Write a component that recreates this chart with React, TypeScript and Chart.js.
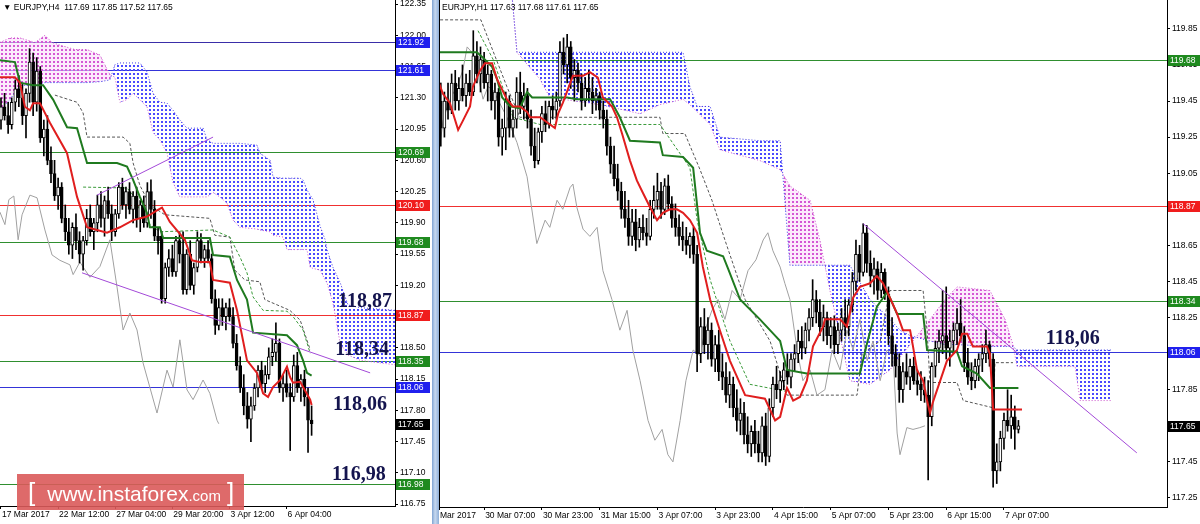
import React, { useEffect, useRef } from "react";
import { Chart, registerables } from "chart.js";
Chart.register(...registerables);

type P = [number, number];
type C = [number, number, number, number];

// ================= H4 panel data =================
const h4Title = "EURJPY,H4  117.69 117.85 117.52 117.65";
const h4TickBars = [0, 16, 32, 48, 64, 80];
const h4TickLabels = ["17 Mar 2017", "22 Mar 12:00", "27 Mar 04:00", "29 Mar 20:00", "3 Apr 12:00", "6 Apr 04:00"];
const h4PriceTicks = [116.75, 117.1, 117.45, 117.8, 118.15, 118.5, 118.85, 119.2, 119.55, 119.9, 120.25, 120.6, 120.95, 121.3, 121.65, 122.0, 122.35];
const h4Levels = [121.92, 121.61, 120.69, 120.1, 119.68, 118.87, 118.35, 118.06, 116.98];
const h4LevelKinds = ["navy", "blue", "green", "red", "green", "red", "green", "blue", "green"];
const h4NoteTexts = ["118,87", "118,34", "118,06", "116,98"];
const h4NoteLevels = [118.87, 118.35, 118.06, 116.98];

const h4Candles: C[] = [
  [121.05,121.30,120.95,121.20],[121.20,121.35,121.05,121.10],[121.10,121.25,120.90,121.00],[121.00,121.30,120.95,121.25],
  [121.25,121.50,121.15,121.40],[121.40,121.55,121.20,121.30],[121.30,121.45,121.00,121.10],[121.10,121.40,120.85,121.35],
  [121.35,121.85,121.25,121.70],[121.70,121.80,121.10,121.25],[121.25,121.75,121.15,121.60],[121.60,121.65,120.80,120.85],
  [120.85,121.05,120.65,120.95],[120.95,121.10,120.55,120.60],[120.60,120.75,120.35,120.45],[120.45,120.60,120.15,120.20],
  [120.20,120.40,120.05,120.30],[120.30,120.35,119.90,119.95],[119.95,120.10,119.70,119.80],[119.80,119.95,119.55,119.65],
  [119.65,119.90,119.50,119.85],[119.85,120.00,119.60,119.70],[119.70,119.80,119.45,119.55],[119.55,119.75,119.37,119.70],
  [119.70,120.05,119.65,119.95],[119.95,120.10,119.75,119.80],[119.80,119.95,119.60,119.90],[119.90,120.21,119.80,120.10],
  [120.10,120.25,119.85,119.95],[119.95,120.20,119.75,120.15],[120.15,120.30,119.95,120.00],[120.00,120.10,119.70,119.80],
  [119.80,120.05,119.75,120.00],[120.00,120.35,119.95,120.30],[120.30,120.40,120.05,120.10],[120.10,120.30,119.95,120.25],
  [120.25,120.35,120.00,120.05],[120.05,120.25,119.90,120.20],[120.20,120.30,119.85,119.95],[119.95,120.15,119.80,120.10],
  [120.10,120.20,119.85,119.90],[119.90,120.35,119.85,120.25],[120.25,120.38,119.95,120.05],[120.05,120.15,119.70,119.75],
  [119.75,119.85,119.55,119.70],[119.75,119.80,119.00,119.05],[119.05,119.45,119.00,119.40],[119.40,119.60,119.30,119.50],
  [119.50,119.65,119.30,119.35],[119.35,119.75,119.30,119.70],[119.70,119.80,119.45,119.55],[119.55,119.80,119.10,119.15],
  [119.15,119.60,119.10,119.55],[119.55,119.70,119.15,119.20],[119.20,119.45,119.10,119.40],[119.40,119.80,119.35,119.70],
  [119.70,119.78,119.45,119.50],[119.50,119.65,119.40,119.60],[119.60,119.70,119.45,119.50],[119.50,119.55,119.00,119.05],
  [119.05,119.15,118.65,118.75],[118.75,119.05,118.70,118.95],[118.95,119.05,118.75,118.85],[118.85,119.00,118.70,118.95],
  [118.95,119.05,118.80,118.85],[118.85,118.95,118.50,118.55],[118.55,118.65,118.25,118.30],[118.30,118.40,118.00,118.05],
  [118.05,118.20,117.75,117.85],[117.85,118.00,117.60,117.70],[117.70,117.95,117.45,117.85],[117.85,118.10,117.80,118.05],
  [118.05,118.30,117.95,118.25],[118.25,118.35,118.05,118.10],[118.10,118.30,118.00,118.20],[118.20,118.50,118.15,118.40],
  [118.40,118.60,118.30,118.45],[118.45,118.78,118.35,118.55],[118.55,118.60,118.00,118.05],[118.05,118.20,117.90,118.10],
  [118.10,118.25,117.95,118.00],[118.00,118.10,117.35,117.95],[117.95,118.42,117.90,118.30],[118.30,118.45,118.00,118.05],
  [118.05,118.20,117.90,118.15],[118.15,118.25,117.85,117.95],[117.95,118.05,117.33,117.69],[117.69,117.85,117.52,117.65],
];
const h4Tenkan: P[] = [
  [-0.3,121.53],[3.9,121.53],[5.3,121.47],[6.7,121.20],[8.1,121.16],[9,121.24],[10.9,121.24],[13.7,121.02],[18.5,120.68],
  [21.3,120.19],[24.1,119.85],[26.9,119.82],[29.7,119.79],[33.3,119.85],[37,119.93],[40.9,119.97],[43.7,120.04],[45.1,120.07],
  [47.3,119.91],[51.5,119.71],[53.5,119.48],[55.7,119.46],[58.5,119.46],[59.4,119.26],[64.1,119.23],[66.1,118.92],[68.9,118.36],
  [71.7,118.22],[73.4,117.99],[74.8,117.95],[76.2,118.06],[78.2,118.14],[80.1,118.29],[81,118.17],[81.8,118.11],[83.8,118.12],
  [86.6,117.92],[87,117.86],
];
const h4Kijun: P[] = [
  [-0.3,121.72],[3.9,121.70],[5.3,121.47],[9,121.44],[11.8,121.44],[14.6,121.28],[18.5,120.97],[21.3,120.96],[24.1,120.57],
  [32.5,120.57],[35.3,120.53],[37,120.38],[38.9,120.19],[40.9,120.01],[41.7,119.85],[44.5,119.85],[45.4,119.73],[58.5,119.73],
  [59.4,119.54],[64.1,119.52],[66.1,119.26],[68.9,119.04],[70.6,118.67],[80.1,118.64],[82.9,118.53],[84.6,118.36],[85.7,118.22],
  [87,118.19],
];
const h4Chikou: P[] = [
  [-0.3,120.02],[1.1,119.88],[2.2,120.16],[3.6,120.20],[4.8,119.71],[5.9,119.99],[8.1,120.21],[10.1,120.18],[12.3,119.82],
  [14.3,119.54],[16.5,119.48],[19.3,119.43],[20.2,119.32],[22.1,119.46],[24.9,119.29],[27.7,119.41],[30.5,119.71],[32.5,119.18],
  [34.2,118.70],[36.1,118.89],[38.1,118.70],[39.8,118.33],[43.7,117.77],[46.5,118.25],[48.2,118.06],[50.1,118.59],[52.1,118.03],
  [53.8,117.92],[56.6,118.14],[58.5,117.99],[60.5,117.69],[61,117.65],
];
const h4CloudX = [-0.3,2.5,5.3,9.5,12.3,14.3,16.5,20.7,24.1,27.7,30.5,31.9,33.3,35.3,37.0,38.9,40.9,42.6,44.5,46.5,48.2,50.1,52.1,56.6,57.7,59.4,61.3,63.3,65.0,66.9,71.7,72.5,75.4,76.2,79.0,80.1,83.8,84.6,85.7,86.6,87.4,89.4,90.8,91.3,93.0,95.0,97.2,100.6,110.4];
const h4SpanA = [121.92,121.97,121.97,121.92,122.00,121.92,121.89,121.84,121.84,121.78,121.56,121.53,121.25,121.28,121.35,121.28,121.20,120.91,120.83,120.68,120.35,120.19,120.19,120.19,120.19,120.24,120.19,120.12,119.93,119.85,119.83,119.82,119.80,119.76,119.74,119.60,119.60,119.60,119.60,119.40,119.39,119.37,119.26,119.23,119.00,118.55,118.42,118.36,118.31];
const h4SpanB = [121.16,121.28,121.44,121.44,121.47,121.47,121.47,121.47,121.47,121.48,121.50,121.67,121.69,121.69,121.69,121.69,121.59,121.35,121.25,121.24,121.16,121.05,120.96,120.96,120.83,120.79,120.79,120.79,120.79,120.79,120.77,120.68,120.60,120.41,120.40,120.40,120.40,120.38,120.27,120.21,120.16,119.86,119.71,119.60,119.40,119.23,118.98,118.95,118.92];
const h4DashGray: P[] = [
  [15.1,121.33],[21.3,121.25],[23.0,121.13],[24.1,120.86],[34.2,120.86],[36.1,120.79],[37.0,120.57],[38.9,120.32],[41.7,120.10],
  [45.9,119.99],[58.5,119.95],[59.9,119.76],[64.1,119.74],[65.5,119.37],[68.3,119.26],[72.5,119.24],[73.9,119.04],[80.9,118.92],
  [83.8,118.81],[86.6,118.48],
];
const h4DashGreen: P[] = [
  [23.0,120.30],[35.3,120.29],[37.0,120.21],[38.9,120.04],[41.7,119.88],[44.5,119.80],[59.4,119.82],[64.1,119.74],[66.9,119.52],
  [68.9,119.34],[70.6,119.07],[73.4,118.92],[80.1,118.91],[81.8,118.85],[84.6,118.70],[86.6,118.44],
];
const h4TrendUp: P[] = [[26.9,120.21],[59.4,120.86]];
const h4TrendDown: P[] = [[22.7,119.34],[103.4,118.22]];

// ================= H1 panel data =================
const h1Title = "EURJPY,H1 117.63 117.68 117.61 117.65";
const h1TickBars = [-0.5, 12, 28, 44, 60, 76, 92, 108, 124, 140, 156];
const h1TickLabels = ["Mar 2017", "30 Mar 07:00", "30 Mar 23:00", "31 Mar 15:00", "3 Apr 07:00", "3 Apr 23:00", "4 Apr 15:00", "5 Apr 07:00", "5 Apr 23:00", "6 Apr 15:00", "7 Apr 07:00"];
const h1PriceTicks = [117.25, 117.45, 117.65, 117.85, 118.05, 118.25, 118.45, 118.65, 118.85, 119.05, 119.25, 119.45, 119.65, 119.85];
const h1Levels = [119.68, 118.87, 118.34, 118.06];
const h1LevelKinds = ["green", "red", "green", "blue"];
const h1NoteTexts = ["118,06"];
const h1NoteLevels = [118.06];

const h1Candles: C[] = [
  [119.45,119.55,119.20,119.30],[119.30,119.50,119.25,119.45],[119.45,119.55,119.35,119.40],[119.40,119.60,119.38,119.55],
  [119.55,119.62,119.40,119.45],[119.45,119.58,119.40,119.52],[119.52,119.65,119.45,119.48],[119.48,119.60,119.42,119.55],
  [119.55,119.62,119.48,119.50],[119.50,119.84,119.48,119.70],[119.70,119.78,119.55,119.60],[119.60,119.75,119.50,119.68],
  [119.68,119.72,119.52,119.55],[119.55,119.65,119.45,119.60],[119.60,119.62,119.40,119.45],[119.45,119.55,119.35,119.50],
  [119.50,119.52,119.20,119.25],[119.25,119.35,119.15,119.30],[119.30,119.50,119.18,119.45],[119.45,119.48,119.25,119.30],
  [119.30,119.40,119.25,119.35],[119.35,119.58,119.30,119.50],[119.50,119.61,119.38,119.42],[119.42,119.55,119.35,119.48],
  [119.48,119.52,119.30,119.35],[119.35,119.40,119.15,119.20],[119.20,119.30,119.08,119.12],[119.12,119.30,119.10,119.28],
  [119.28,119.42,119.22,119.38],[119.38,119.45,119.28,119.32],[119.32,119.45,119.30,119.42],[119.42,119.48,119.35,119.40],
  [119.40,119.50,119.35,119.45],[119.45,119.78,119.42,119.72],[119.72,119.80,119.60,119.65],[119.65,119.82,119.55,119.75],
  [119.75,119.78,119.52,119.58],[119.58,119.68,119.45,119.62],[119.62,119.66,119.50,119.55],[119.55,119.60,119.40,119.45],
  [119.45,119.58,119.42,119.52],[119.52,119.62,119.45,119.50],[119.50,119.58,119.38,119.45],[119.45,119.52,119.40,119.48],
  [119.48,119.50,119.35,119.40],[119.40,119.45,119.30,119.35],[119.35,119.40,119.15,119.20],[119.20,119.25,119.05,119.10],
  [119.10,119.20,118.98,119.02],[119.02,119.10,118.90,118.95],[118.95,119.00,118.80,118.85],[118.85,118.95,118.75,118.80],
  [118.80,118.90,118.65,118.70],[118.70,118.85,118.65,118.78],[118.78,118.85,118.62,118.68],[118.68,118.80,118.64,118.75],
  [118.75,118.82,118.68,118.72],[118.72,118.80,118.65,118.70],[118.70,118.90,118.68,118.85],[118.85,118.98,118.80,118.90],
  [118.90,119.05,118.85,118.95],[118.95,119.00,118.80,118.85],[118.85,119.02,118.82,118.98],[118.98,119.04,118.85,118.88],
  [118.88,118.92,118.75,118.80],[118.80,118.88,118.70,118.75],[118.75,118.82,118.65,118.70],[118.70,118.78,118.62,118.68],
  [118.68,118.75,118.60,118.65],[118.65,118.72,118.58,118.70],[118.70,118.75,118.55,118.60],[118.60,118.65,117.95,118.05],
  [118.05,118.25,118.00,118.20],[118.20,118.30,118.05,118.10],[118.10,118.25,118.02,118.18],[118.18,118.22,117.98,118.02],
  [118.02,118.15,117.95,118.10],[118.10,118.18,117.90,117.95],[117.95,118.05,117.85,117.92],[117.92,118.00,117.78,117.82],
  [117.82,117.95,117.75,117.88],[117.88,117.92,117.70,117.75],[117.75,117.85,117.62,117.68],[117.68,117.80,117.60,117.72],
  [117.72,117.78,117.55,117.60],[117.60,117.70,117.50,117.55],[117.55,117.65,117.48,117.62],[117.62,117.68,117.50,117.55],
  [117.55,117.62,117.45,117.50],[117.50,117.70,117.45,117.65],[117.65,117.72,117.43,117.48],[117.48,117.80,117.45,117.75],
  [117.75,117.92,117.70,117.88],[117.88,117.98,117.80,117.85],[117.85,117.95,117.78,117.90],[117.90,118.00,117.85,117.96],
  [117.96,118.05,117.88,117.92],[117.92,118.05,117.86,118.02],[118.02,118.10,117.95,118.05],[118.05,118.18,118.00,118.12],
  [118.12,118.20,118.02,118.08],[118.08,118.22,118.05,118.18],[118.18,118.30,118.12,118.25],[118.25,118.46,118.20,118.35],
  [118.35,118.40,118.22,118.28],[118.28,118.35,118.15,118.20],[118.20,118.32,118.12,118.25],[118.25,118.28,118.10,118.15],
  [118.15,118.25,118.08,118.20],[118.20,118.26,118.05,118.10],[118.10,118.22,118.05,118.18],[118.18,118.30,118.12,118.25],
  [118.25,118.35,118.15,118.20],[118.20,118.35,118.15,118.32],[118.32,118.50,118.28,118.45],[118.45,118.68,118.40,118.60],
  [118.60,118.65,118.45,118.50],[118.50,118.77,118.48,118.72],[118.72,118.76,118.50,118.55],[118.55,118.62,118.42,118.48],
  [118.48,118.58,118.38,118.52],[118.52,118.56,118.35,118.40],[118.40,118.55,118.36,118.50],[118.50,118.52,118.35,118.38],
  [118.38,118.42,118.10,118.15],[118.15,118.25,117.98,118.05],[118.05,118.10,117.92,117.98],[117.98,118.05,117.78,117.85],
  [117.85,118.00,117.78,117.95],[117.95,118.05,117.88,117.92],[117.92,118.02,117.85,117.98],[117.98,118.03,117.88,117.90],
  [117.90,117.96,117.82,117.88],[117.88,117.95,117.79,117.85],[117.85,117.92,117.78,117.82],[117.82,117.90,117.35,117.70],
  [117.70,118.00,117.65,117.98],[117.98,118.12,117.92,118.08],[118.08,118.18,118.00,118.12],[118.12,118.40,118.05,118.15],
  [118.15,118.42,118.02,118.08],[118.08,118.18,117.98,118.12],[118.12,118.22,118.05,118.18],[118.18,118.30,118.10,118.22],
  [118.22,118.35,118.12,118.15],[118.15,118.20,117.95,118.00],[118.00,118.08,117.88,117.92],[117.92,118.00,117.85,117.90],
  [117.90,118.02,117.86,117.98],[117.98,118.05,117.90,118.02],[118.02,118.10,117.95,118.05],[118.05,118.18,118.00,118.10],
  [118.10,118.12,117.98,118.02],[118.02,118.05,117.31,117.40],[117.40,117.55,117.33,117.45],[117.45,117.62,117.40,117.58],
  [117.58,117.72,117.52,117.68],[117.68,117.85,117.62,117.65],[117.65,117.82,117.58,117.70],[117.70,117.76,117.52,117.63],
  [117.63,117.68,117.61,117.65],
];
const h1Tenkan: P[] = [
  [-0.5,119.55],[0.6,119.49],[2.5,119.44],[4.8,119.29],[6.1,119.34],[8.1,119.42],[8.9,119.53],[10.9,119.62],[12.2,119.66],
  [14.2,119.66],[15.6,119.57],[18.3,119.46],[20,119.42],[21.9,119.42],[23.9,119.39],[24.7,119.36],[27.5,119.36],[31.6,119.30],
  [32.5,119.38],[33.8,119.44],[36.6,119.59],[39.4,119.59],[41.3,119.61],[43.5,119.58],[44.9,119.47],[47.4,119.42],[48.8,119.36],
  [50.2,119.27],[52.4,119.12],[54.3,119.01],[56,118.94],[58,118.86],[59.9,118.79],[61.5,118.83],[63.5,118.85],[65.4,118.85],
  [67.1,118.83],[69,118.79],[71,118.72],[72.6,118.53],[74.6,118.35],[77.3,118.18],[80.1,118.01],[84.3,117.82],[89.8,117.80],
  [92.6,117.68],[94,117.70],[95.9,117.86],[97.6,117.79],[99.5,117.81],[101.4,117.90],[103.1,118.09],[105.9,118.20],[106.4,118.24],
  [110.6,118.24],[112.5,118.20],[114.2,118.36],[116.1,118.42],[118.9,118.44],[120.8,118.48],[122.5,118.44],[124.4,118.36],
  [126.4,118.27],[128,118.18],[130,118.18],[130.8,118.09],[131.9,117.96],[133.6,117.90],[134.7,117.79],[135.5,117.72],[136.3,117.78],
  [140.2,118.01],[143,118.07],[144.4,118.16],[145.8,118.16],[147.4,118.09],[151.3,118.09],[152.1,118.05],[153,117.74],[161,117.74],
];
const h1Kijun: P[] = [
  [-0.5,119.72],[10,119.72],[11.7,119.69],[14.2,119.64],[15.6,119.57],[17,119.47],[19.2,119.42],[21.9,119.41],[23.9,119.50],
  [25.3,119.47],[35,119.47],[37.7,119.46],[46.9,119.46],[49.6,119.36],[52.4,119.23],[60.7,119.22],[61.5,119.15],[67.1,119.14],
  [69.9,119.08],[71.8,118.72],[73.7,118.62],[78.2,118.59],[79.6,118.52],[82.9,118.35],[88.4,118.24],[92.6,118.15],[94,118.12],
  [95.9,117.96],[101.4,117.94],[116.1,117.94],[118.1,118.11],[120.8,118.31],[123.6,118.39],[124.4,118.36],[126.4,118.27],
  [133.6,118.27],[134.7,118.07],[143,118.06],[144.4,117.98],[148.5,117.94],[152.1,117.86],[160,117.86],
];
const h1Chikou: P[] = [
  [-0.5,119.16],[0.6,119.34],[2.5,119.46],[4.5,119.53],[6.1,119.62],[7.3,119.75],[8.6,119.72],[10,119.62],[11.7,119.46],
  [13.1,119.53],[14.5,119.51],[18.3,119.36],[21.1,119.22],[23.9,119.03],[26.6,118.66],[28.9,118.79],[30.2,118.75],[32.2,118.90],
  [33.8,118.85],[35.8,118.97],[36.6,118.99],[37.7,118.86],[39.4,118.74],[41.3,118.70],[43.3,118.75],[44.9,118.51],[47.4,118.35],
  [49.6,118.18],[51.6,118.29],[53.2,118.07],[55.2,117.90],[57.4,117.68],[59.3,117.57],[61.3,117.63],[62.9,117.49],[64.3,117.45],
  [66.3,117.68],[67.9,117.90],[69.9,118.07],[71.8,118.04],[73.2,118.18],[75.1,118.29],[76.8,118.35],[78.7,118.24],[80.7,118.40],
  [82.9,118.35],[85.1,118.51],[87.3,118.57],[89.3,118.68],[90.6,118.72],[92.0,118.62],[94.0,118.53],[95.3,118.44],[96.7,118.35],
  [98.7,118.07],[100.3,117.90],[102.3,117.96],[104.2,117.82],[106.4,117.85],[108.4,118.07],[110.6,117.96],[112.5,118.18],
  [114.2,118.07],[116.1,118.24],[118.1,118.01],[119.7,118.12],[121.7,117.90],[123.6,118.07],[125.3,118.04],[126.4,117.61],
  [127.2,117.49],[129.1,117.64],[130.8,117.63],[132.7,117.64],[134.1,117.65],
];
const h1CloudX = [19.7,21.1,27.5,30.2,44.1,55.2,60.7,67.1,69.0,71.0,74.6,77.3,88.4,94.0,96.7,102.3,105.0,107.8,113.3,118.9,124.4,127.2,130.0,135.5,139.7,143.0,152.1,156.3,158.5,159.6,175.7,177.1,185.9];
const h1SpanA = [120.04,119.72,119.57,119.47,119.43,119.38,119.43,119.46,119.43,119.39,119.32,119.18,119.12,119.07,118.98,118.90,118.68,118.40,117.90,117.88,117.96,118.03,118.10,118.24,118.35,118.42,118.40,118.24,118.10,117.98,117.98,117.79,117.79];
const h1SpanB = [120.04,119.72,119.72,119.72,119.72,119.72,119.72,119.72,119.53,119.42,119.42,119.25,119.23,119.23,118.54,118.54,118.54,118.54,118.54,118.35,118.24,118.18,118.15,118.12,118.10,118.10,118.09,118.09,118.09,118.07,118.07,118.07,118.07];
const h1DashGray: P[] = [
  [-0.2,119.90],[11.1,119.90],[18.3,119.53],[21.9,119.36],[43.3,119.36],[60.7,119.36],[61.5,119.27],[67.6,119.27],[71.8,119.07],
  [75.1,118.90],[78.7,118.68],[84.3,118.35],[91.2,118.12],[95.9,117.82],[115.3,117.82],[116.7,118.05],[121.7,118.12],[124.4,118.40],
  [133.6,118.40],[134.7,118.18],[135.5,117.89],[143,117.89],[144.7,117.79],[153,117.75],[153.5,118.00],[158.5,118.00],
];
const h1DashGreen: P[] = [
  [10.3,119.84],[14.5,119.68],[20.0,119.36],[27.5,119.32],[60.7,119.32],[69.0,119.08],[71.0,118.79],[74.6,118.46],[80.1,118.12],
  [85.6,117.88],[95.9,117.84],
];
const h1Trend: P[] = [[117, 118.77], [192.8, 117.5]];

// ================= styles =================
const LEVEL_STYLE: Record<string, { line: string; tag: string }> = {
  navy: { line: "#3a2ea8", tag: "#2020ee" },
  blue: { line: "#3434d8", tag: "#2020ee" },
  green: { line: "#2f8f2f", tag: "#1f8a1f" },
  red: { line: "#f03030", tag: "#f01d1d" },
};
const AXIS_FONT = { family: '"Liberation Sans", Arial, sans-serif', size: 8.5 };

function dotPattern(dot: string, bg: string | null) {
  const c = document.createElement("canvas");
  c.width = 4;
  c.height = 4;
  const g = c.getContext("2d")!;
  if (bg) {
    g.fillStyle = bg;
    g.fillRect(0, 0, 4, 4);
  }
  g.fillStyle = dot;
  g.fillRect(1, 1, 2, 2);
  return g.createPattern(c, "repeat");
}

const overlayPlugin = {
  id: "mtOverlay",
  beforeDatasetsDraw(chart: any, _a: any, o: any) {
    const { ctx, chartArea: a, scales } = chart;
    ctx.save();
    ctx.beginPath();
    ctx.rect(a.left, a.top, a.right - a.left, a.bottom - a.top);
    ctx.clip();
    o.levels.forEach((v: number, i: number) => {
      const py = Math.round(scales.y.getPixelForValue(v)) + 0.5;
      ctx.strokeStyle = LEVEL_STYLE[o.kinds[i]].line;
      ctx.lineWidth = 1;
      ctx.beginPath();
      ctx.moveTo(a.left, py);
      ctx.lineTo(a.right, py);
      ctx.stroke();
    });
    ctx.restore();
  },
  afterDraw(chart: any, _a: any, o: any) {
    const { ctx, chartArea: a, scales } = chart;
    ctx.save();
    if (o.leftBorder) {
      ctx.strokeStyle = "#000";
      ctx.lineWidth = 1;
      ctx.beginPath();
      ctx.moveTo(a.left + 0.5, 0);
      ctx.lineTo(a.left + 0.5, a.bottom);
      ctx.stroke();
    }
    ctx.font = 'bold 20px "Liberation Serif", "Times New Roman", serif';
    ctx.fillStyle = "#14144e";
    ctx.textBaseline = "alphabetic";
    o.noteTexts.forEach((t: string, i: number) => {
      ctx.fillText(t, scales.x.getPixelForValue(o.noteBars[i]), scales.y.getPixelForValue(o.noteLevels[i]) + o.noteDy[i]);
    });
    ctx.font = '8.5px "Liberation Sans", Arial, sans-serif';
    ctx.textBaseline = "middle";
    const tag = (v: number, bg: string) => {
      const py = Math.round(scales.y.getPixelForValue(v));
      ctx.fillStyle = bg;
      ctx.fillRect(a.right + 1, py - 5, o.tagW, 11);
      ctx.fillStyle = "#fff";
      ctx.fillText(v.toFixed(2), a.right + 3, py + 0.5);
    };
    o.levels.forEach((v: number, i: number) => tag(v, LEVEL_STYLE[o.kinds[i]].tag));
    tag(o.last, "#000");
    ctx.restore();
  },
};

function buildConfig(p: any) {
  const pts = (a: P[]) => a.map(([x, y]) => ({ x, y }));
  const ln = (a: P[], color: string, width: number, order: number, extra: any = {}) => ({
    type: "line",
    data: pts(a),
    borderColor: color,
    borderWidth: width,
    pointRadius: 0,
    tension: 0,
    fill: false,
    order,
    ...extra,
  });
  const candles: C[] = p.candles;
  const blue = dotPattern("#4a4aff", null);
  const pink = dotPattern("#d458d4", "rgba(250,222,250,0.6)");
  const datasets: any[] = [
    {
      type: "line",
      data: p.cloudX.map((x: number, i: number) => ({ x, y: p.spanA[i] })),
      borderColor: "#cc55cc",
      borderWidth: 1,
      borderDash: [1, 2],
      pointRadius: 0,
      tension: 0,
      fill: { target: "+1", above: pink, below: blue },
      order: 20,
    },
    {
      type: "line",
      data: p.cloudX.map((x: number, i: number) => ({ x, y: p.spanB[i] })),
      borderColor: "#3a3ae6",
      borderWidth: 1,
      borderDash: [1, 2],
      pointRadius: 0,
      tension: 0,
      fill: false,
      order: 19,
    },
    ln(p.dashGray, "#555555", 1, 12, { borderDash: [3, 2] }),
    ln(p.dashGreen, "#3a9a3a", 1, 11, { borderDash: [3, 2] }),
    ln(p.chikou, "#a0a0a0", 1, 10),
    {
      type: "bar",
      data: candles.map((q, i) => ({ x: i, y: [q[2], q[1]] })),
      backgroundColor: "#000",
      borderWidth: 0,
      barThickness: 1,
      grouped: false,
      order: 6,
    },
    {
      type: "bar",
      data: candles.map((q, i) => ({ x: i, y: [Math.min(q[0], q[3]), Math.max(q[0], q[3])] })),
      backgroundColor: candles.map((q) => (q[3] > q[0] ? "#ffffff" : "#000000")),
      borderColor: "#000",
      borderWidth: 1,
      borderSkipped: false,
      barThickness: 3,
      minBarLength: 1,
      grouped: false,
      order: 5,
    },
    ln(p.kijun, "#1f7a1f", 2, 3),
    ln(p.tenkan, "#e01e1e", 2, 2),
    ...p.trends.map((t: P[]) => ln(t, "#a349d8", 1, 1)),
  ];
  return {
    type: "bar",
    data: { datasets },
    plugins: [overlayPlugin],
    options: {
      animation: false,
      responsive: false,
      maintainAspectRatio: false,
      events: [],
      layout: { padding: 0 },
      plugins: {
        legend: { display: false },
        tooltip: { enabled: false },
        mtOverlay: {
          levels: p.levels,
          kinds: p.kinds,
          last: candles[candles.length - 1][3],
          tagW: p.tagW,
          noteTexts: p.noteTexts,
          noteLevels: p.noteLevels,
          noteBars: p.noteBars,
          noteDy: p.noteDy,
          leftBorder: p.leftBorder,
        },
      },
      scales: {
        x: {
          type: "linear",
          position: "bottom",
          min: p.xMin,
          max: p.xMax,
          offset: false,
          afterFit: (s: any) => {
            s.height = p.xAxisH;
            s.paddingLeft = 0;
            s.paddingRight = 0;
            s.paddingTop = 0;
            s.paddingBottom = 0;
          },
          afterBuildTicks: (s: any) => {
            s.ticks = p.tickBars.map((v: number) => ({ value: v }));
          },
          grid: { display: true, drawOnChartArea: false, drawTicks: true, tickLength: 3, color: "#000", offset: false },
          border: { display: true, color: "#000", width: 1 },
          ticks: {
            autoSkip: false,
            maxRotation: 0,
            minRotation: 0,
            align: "start",
            padding: 1,
            labelOffset: 1,
            color: "#000",
            font: AXIS_FONT,
            callback: (v: number) => {
              const j = p.tickBars.indexOf(v);
              return j >= 0 ? p.tickLabels[j] : "";
            },
          },
        },
        y: {
          type: "linear",
          position: "right",
          min: p.yMin,
          max: p.yMax,
          afterFit: (s: any) => {
            s.width = p.yAxisW;
            s.paddingTop = 0;
            s.paddingBottom = 0;
            s.paddingLeft = 0;
            s.paddingRight = 0;
          },
          afterBuildTicks: (s: any) => {
            s.ticks = p.priceTicks.map((v: number) => ({ value: v }));
          },
          grid: { display: true, drawOnChartArea: false, drawTicks: true, tickLength: 3, color: "#000" },
          border: { display: true, color: "#000", width: 1 },
          ticks: {
            padding: 2,
            color: "#000",
            font: AXIS_FONT,
            callback: (v: number) => Number(v).toFixed(2),
          },
        },
      },
    },
  };
}

export default function App() {
  const leftRef = useRef<HTMLCanvasElement>(null);
  const rightRef = useRef<HTMLCanvasElement>(null);

  useEffect(() => {
    const left = new Chart(
      leftRef.current as HTMLCanvasElement,
      buildConfig({
        candles: h4Candles,
        tenkan: h4Tenkan,
        kijun: h4Kijun,
        chikou: h4Chikou,
        cloudX: h4CloudX,
        spanA: h4SpanA,
        spanB: h4SpanB,
        dashGray: h4DashGray,
        dashGreen: h4DashGreen,
        trends: [h4TrendUp, h4TrendDown],
        xMin: -0.28,
        xMax: 110.36,
        yMin: 116.729,
        yMax: 122.395,
        xAxisH: 18,
        yAxisW: 37,
        tagW: 34,
        tickBars: h4TickBars,
        tickLabels: h4TickLabels,
        priceTicks: h4PriceTicks,
        levels: h4Levels,
        kinds: h4LevelKinds,
        noteTexts: h4NoteTexts,
        noteLevels: h4NoteLevels,
        noteBars: [94.4, 93.6, 93.0, 92.7],
        noteDy: [-8, -6, 23, -4],
        leftBorder: false,
      }) as any
    );
    const right = new Chart(
      rightRef.current as HTMLCanvasElement,
      buildConfig({
        candles: h1Candles,
        tenkan: h1Tenkan,
        kijun: h1Kijun,
        chikou: h1Chikou,
        cloudX: h1CloudX,
        spanA: h1SpanA,
        spanB: h1SpanB,
        dashGray: h1DashGray,
        dashGreen: h1DashGreen,
        trends: [h1Trend],
        xMin: -0.5,
        xMax: 201.16,
        yMin: 117.2,
        yMax: 120.01,
        xAxisH: 17,
        yAxisW: 33,
        tagW: 32,
        tickBars: h1TickBars,
        tickLabels: h1TickLabels,
        priceTicks: h1PriceTicks,
        levels: h1Levels,
        kinds: h1LevelKinds,
        noteTexts: h1NoteTexts,
        noteLevels: h1NoteLevels,
        noteBars: [167.6],
        noteDy: [-8],
        leftBorder: true,
      }) as any
    );
    return () => {
      left.destroy();
      right.destroy();
    };
  }, []);

  const hdr: React.CSSProperties = {
    position: "absolute",
    top: 2,
    fontFamily: '"Liberation Sans", Arial, sans-serif',
    fontSize: 8.5,
    lineHeight: "11px",
    color: "#000",
    whiteSpace: "pre",
  };

  return (
    <div style={{ position: "absolute", left: 0, top: 0, width: 1200, height: 524, background: "#fff", overflow: "hidden" }}>
      <canvas ref={leftRef} width={432} height={524} style={{ position: "absolute", left: 0, top: 0, width: 432, height: 524 }} />
      <div
        style={{
          position: "absolute",
          left: 432,
          top: 0,
          width: 7,
          height: 524,
          background: "linear-gradient(90deg, #7fa3d2 0%, #c6d8ef 45%, #8eafd8 100%)",
        }}
      />
      <canvas ref={rightRef} width={761} height={524} style={{ position: "absolute", left: 439, top: 0, width: 761, height: 524 }} />
      <div style={{ ...hdr, left: 3 }}>{"▼ " + h4Title}</div>
      <div style={{ ...hdr, left: 442 }}>{h1Title}</div>
      <div
        style={{
          position: "absolute",
          left: 17,
          top: 474,
          width: 227,
          height: 36,
          background: "rgba(218,90,90,0.9)",
          color: "#fff",
          fontFamily: '"Liberation Sans", Arial, sans-serif',
          display: "flex",
          alignItems: "baseline",
          lineHeight: "36px",
          whiteSpace: "pre",
        }}
      >
        <span style={{ fontSize: 26, marginLeft: 11 }}>[</span>
        <span style={{ fontSize: 21, marginLeft: 12 }}>www.instaforex</span>
        <span style={{ fontSize: 15 }}>.com</span>
        <span style={{ fontSize: 26, marginLeft: 6 }}>]</span>
      </div>
    </div>
  );
}
